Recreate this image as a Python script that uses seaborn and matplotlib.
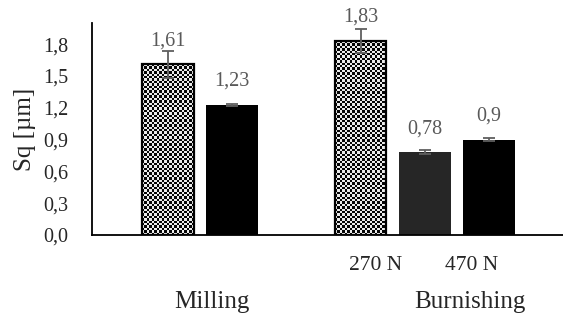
import numpy as np
import pandas as pd
import matplotlib
matplotlib.use("Agg")
import matplotlib.pyplot as plt
from matplotlib.transforms import blended_transform_factory
import seaborn as sns

# Surface roughness Sq after milling and after burnishing
bar_ids = ["Milling A", "Milling B", "Burnishing A", "Burnishing 270 N", "Burnishing 470 N"]
sq_values = [1.61, 1.23, 1.83, 0.78, 0.90]
sq_errors = [0.13, 0.01, 0.11, 0.02, 0.015]
bar_colors = ["white", "black", "white", "#262626", "black"]
checkered = [True, False, True, False, False]
group_labels = ["Milling", "Burnishing"]
force_labels = ["270 N", "470 N"]
y_ticks = [0.0, 0.3, 0.6, 0.9, 1.2, 1.5, 1.8]

sns.set_style("white")
plt.rcParams["font.family"] = ["Liberation Serif", "DejaVu Serif"]

df = pd.DataFrame({"bar": bar_ids, "sq": sq_values})
order = bar_ids[:2] + [" "] + bar_ids[2:]

fig = plt.figure(figsize=(5.63, 3.2), dpi=100)
ax = fig.add_axes([92 / 563, 85 / 320, 1 - 92 / 563, 212 / 320])

sns.barplot(data=df, x="bar", y="sq", hue="bar", order=order, hue_order=bar_ids,
            palette=dict(zip(bar_ids, bar_colors)), dodge=False, width=0.8,
            errorbar=None, legend=False, ax=ax, edgecolor="black", linewidth=0)

ax.set_xlim(-1.18, 6.15)
ax.set_ylim(0, 2.0)

bars = [c.patches[0] for c in ax.containers]
centers = [b.get_x() + b.get_width() / 2 for b in bars]

# checkered fill for the first bar of each group
for bar, chk in zip(bars, checkered):
    if not chk:
        continue
    x0, w, h = bar.get_x(), bar.get_width(), bar.get_height()
    p0 = ax.transData.transform((x0, 0))
    p1 = ax.transData.transform((x0 + w, h))
    cell = 2.4
    nx = max(1, int(round((p1[0] - p0[0]) / cell)))
    ny = max(1, int(round((p1[1] - p0[1]) / cell)))
    jj, ii = np.meshgrid(np.arange(nx), np.arange(ny))
    tex = np.where((ii + jj) % 2 == 0, 0.02, 0.92)
    ax.imshow(tex, cmap="gray", vmin=0, vmax=1, extent=(x0, x0 + w, 0, h),
              aspect="auto", interpolation="nearest", zorder=0.5)
    bar.set_facecolor("none")
    bar.set_linewidth(1.6)
    bar.set_zorder(1)

ax.set_xlim(-1.18, 6.15)
ax.set_ylim(0, 2.0)

ax.errorbar(centers, sq_values, yerr=sq_errors, fmt="none", ecolor="#5f5f5f",
            elinewidth=1.3, capsize=4, capthick=1.3, zorder=3)

for x, v in zip(centers, sq_values):
    ax.annotate(f"{v:g}".replace(".", ","), (x, v), xytext=(0, 17),
                textcoords="offset points", ha="center", va="center",
                fontsize=14.5, color="#595959", zorder=4)

ax.set_yticks(y_ticks)
ax.set_yticklabels([f"{t:.1f}".replace(".", ",") for t in y_ticks], fontsize=14.5)
ax.set_xticks([])
ax.set_xlabel("")
ax.set_ylabel("Sq [µm]", fontsize=18, labelpad=5)
ax.tick_params(axis="y", length=0, pad=17)

for side in ["top", "right"]:
    ax.spines[side].set_visible(False)
for side in ["left", "bottom"]:
    ax.spines[side].set_color("black")
    ax.spines[side].set_linewidth(1.3)

trans = blended_transform_factory(ax.transData, ax.transAxes)
for xpos, lab in zip([3.24, 4.72], force_labels):
    ax.text(xpos, -0.142, lab, transform=trans, ha="center", va="center", fontsize=15.5)
for xpos, lab in zip([0.68, 4.70], group_labels):
    ax.text(xpos, -0.316, lab, transform=trans, ha="center", va="center", fontsize=18)

fig.savefig("out.png", dpi=100)
